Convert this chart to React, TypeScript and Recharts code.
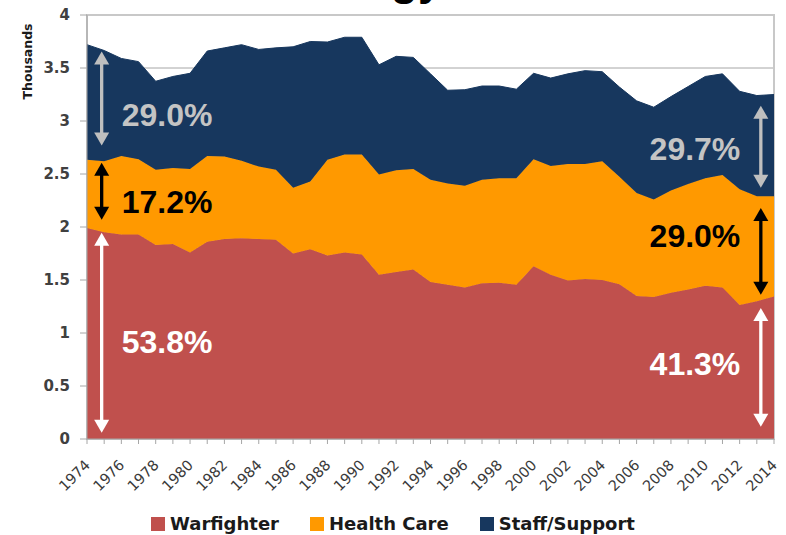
import { AreaChart, Area, XAxis, YAxis, CartesianGrid, Legend, ReferenceLine, ReferenceArea } from 'recharts'

// ── data (thousands) ──────────────────────────────────────────
const YEARS = [
  '1974', '1975', '1976', '1977', '1978', '1979', '1980', '1981', '1982', '1983',
  '1984', '1985', '1986', '1987', '1988', '1989', '1990', '1991', '1992', '1993',
  '1994', '1995', '1996', '1997', '1998', '1999', '2000', '2001', '2002', '2003',
  '2004', '2005', '2006', '2007', '2008', '2009', '2010', '2011', '2012', '2013',
  '2014',
]

const WARFIGHTER = [
  1.99, 1.95, 1.93, 1.93, 1.83, 1.84, 1.76, 1.86, 1.886, 1.895,
  1.886, 1.88, 1.75, 1.79, 1.73, 1.76, 1.74, 1.55, 1.575, 1.6,
  1.48, 1.455, 1.43, 1.47, 1.475, 1.455, 1.63, 1.55, 1.495, 1.51,
  1.5, 1.46, 1.35, 1.34, 1.38, 1.41, 1.445, 1.43, 1.265, 1.3,
  1.345,
]

const HEALTH_CARE = [
  0.645, 0.67, 0.74, 0.71, 0.71, 0.716, 0.787, 0.81, 0.78, 0.73,
  0.684, 0.66, 0.62, 0.64, 0.905, 0.925, 0.945, 0.945, 0.96, 0.947,
  0.965, 0.955, 0.96, 0.975, 0.985, 1.005, 1.01, 1.025, 1.1, 1.085,
  1.12, 1.015, 0.97, 0.92, 0.965, 0.995, 1.015, 1.06, 1.09, 0.99,
  0.945,
]

const STAFF_SUPPORT = [
  1.085, 1.045, 0.92, 0.92, 0.835, 0.864, 0.903, 0.99, 1.024, 1.095,
  1.105, 1.15, 1.33, 1.32, 1.11, 1.105, 1.105, 1.035, 1.075, 1.053,
  1.0, 0.88, 0.905, 0.885, 0.87, 0.84, 0.81, 0.83, 0.85, 0.88,
  0.845, 0.845, 0.87, 0.87, 0.885, 0.92, 0.96, 0.955, 0.925, 0.95,
  0.96,
]

const Y_TICKS = [0, 0.5, 1, 1.5, 2, 2.5, 3, 3.5, 4]
// ──────────────────────────────────────────────────────────────

const SERIES = [
  { key: 'warfighter', name: 'Warfighter', color: '#c0504d' },
  { key: 'health', name: 'Health Care', color: '#ff9900' },
  { key: 'staff', name: 'Staff/Support', color: '#17375e' },
]

const data = YEARS.map((year, i) => ({
  year,
  warfighter: WARFIGHTER[i],
  health: HEALTH_CARE[i],
  staff: STAFF_SUPPORT[i],
}))

// share arrows drawn over the areas (y in thousands, dx in px)
const ARROWS = [
  { year: '1975', top: 3.655, bottom: 2.77, labelAt: 3.06, label: '29.0%', color: '#bfbfbf', side: 'right', dx: -2.5 },
  { year: '1975', top: 2.606, bottom: 2.068, labelAt: 2.243, label: '17.2%', color: '#000000', side: 'right', dx: -2.5 },
  { year: '1975', top: 1.945, bottom: 0.06, labelAt: 0.92, label: '53.8%', color: '#ffffff', side: 'right', dx: -2.5 },
  { year: '2013', top: 3.145, bottom: 2.37, labelAt: 2.743, label: '29.7%', color: '#bfbfbf', side: 'left', dx: 4 },
  { year: '2013', top: 2.18, bottom: 1.36, labelAt: 1.917, label: '29.0%', color: '#000000', side: 'left', dx: 4 },
  { year: '2013', top: 1.237, bottom: 0.116, labelAt: 0.708, label: '41.3%', color: '#ffffff', side: 'left', dx: 4 },
]

type Arrow = (typeof ARROWS)[number]

function arrowShape(a: Arrow) {
  return (props: any) => {
    const { x1, y1, y2 } = props
    const x = x1 + a.dx
    const head = 13
    const half = 7.5
    // y1 belongs to a.top, y2 to a.bottom (linear scale)
    const ly = y1 + ((a.labelAt - a.top) / (a.bottom - a.top)) * (y2 - y1)
    const tx = a.side === 'right' ? x + 20 : x - 20.5
    return (
      <g>
        <line x1={x} x2={x} y1={y1 + head - 1} y2={y2 - head + 1} stroke={a.color} strokeWidth={3.3} />
        <polygon points={`${x},${y1} ${x - half},${y1 + head} ${x + half},${y1 + head}`} fill={a.color} />
        <polygon points={`${x},${y2} ${x - half},${y2 - head} ${x + half},${y2 - head}`} fill={a.color} />
        <text
          x={tx}
          y={ly}
          dy="0.36em"
          textAnchor={a.side === 'right' ? 'start' : 'end'}
          fontFamily="'Liberation Sans', Arial, sans-serif"
          fontWeight="bold"
          fontSize={32}
          fill={a.color === '#bfbfbf' ? '#c4c4c4' : a.color}
        >
          {a.label}
        </text>
      </g>
    )
  }
}

function YearTick(props: any) {
  const { x, y, payload } = props
  if (Number(payload.value) % 2 !== 0) return null
  const ax = x + 4
  const ay = y + 20
  return (
    <text
      x={ax}
      y={ay}
      transform={`rotate(-45, ${ax}, ${ay})`}
      textAnchor="end"
      fontFamily="'DejaVu Sans', sans-serif"
      fontSize={14.5}
      fill="#3a3a3a"
    >
      {payload.value}
    </text>
  )
}

function LegendContent() {
  return (
    <div
      style={{
        display: 'flex',
        justifyContent: 'center',
        alignItems: 'center',
        gap: 31,
        height: 36,
        paddingTop: 13,
        boxSizing: 'border-box',
        fontFamily: "'DejaVu Sans', sans-serif",
        fontWeight: 'bold',
        fontSize: 18,
        color: '#1a1a1a',
      }}
    >
      {SERIES.map((s) => (
        <div key={s.key} style={{ display: 'flex', alignItems: 'center', gap: 5 }}>
          <span style={{ display: 'inline-block', width: 14, height: 14, background: s.color }} />
          <span>{s.name}</span>
        </div>
      ))}
    </div>
  )
}

export default function App() {
  return (
    <div style={{ position: 'fixed', left: 0, top: 0, width: 786, height: 535, background: '#fff' }}>
      <AreaChart width={786} height={535} data={data} margin={{ top: 15, right: 12, bottom: 0, left: 0 }}>
        <CartesianGrid vertical={false} stroke="#a6a6a6" />
        <ReferenceArea x1="1974" x2="2014" y1={0} y2={4} fill="none" stroke="#c8c8c8" strokeWidth={2} />
        <XAxis
          dataKey="year"
          interval={0}
          height={60}
          tick={<YearTick />}
          tickSize={5}
          axisLine={{ stroke: '#a6a6a6' }}
          tickLine={{ stroke: '#a6a6a6' }}
        />
        <YAxis
          width={87}
          domain={[0, 4]}
          ticks={Y_TICKS}
          tickSize={7}
          tickMargin={10}
          axisLine={{ stroke: '#a6a6a6' }}
          tickLine={{ stroke: '#a6a6a6' }}
          tick={{ fontFamily: "'DejaVu Sans', sans-serif", fontSize: 15, fontWeight: 'bold', fill: '#404040' }}
          label={{
            content: (p: any) => {
              const vb = p.viewBox || { x: 0, y: 15 }
              const cx = vb.x + 27
              const cy = vb.y + 46.5
              return (
                <text
                  x={cx}
                  y={cy}
                  transform={`rotate(-90, ${cx}, ${cy})`}
                  textAnchor="middle"
                  dy="0.36em"
                  fontFamily="'DejaVu Sans', sans-serif"
                  fontWeight="bold"
                  fontSize={12.5}
                  fill="#1a1a1a"
                >
                  Thousands
                </text>
              )
            },
          }}
        />
        {SERIES.map((s) => (
          <Area
            key={s.key}
            type="linear"
            dataKey={s.key}
            name={s.name}
            stackId="total"
            fill={s.color}
            fillOpacity={1}
            stroke={s.color}
            strokeWidth={1}
            isAnimationActive={false}
          />
        ))}
        {ARROWS.map((a, i) => (
          <ReferenceLine
            key={i}
            segment={[
              { x: a.year, y: a.top },
              { x: a.year, y: a.bottom },
            ]}
            stroke={a.color}
            shape={arrowShape(a)}
          />
        ))}
        <Legend
          verticalAlign="bottom"
          height={36}
          content={<LegendContent />}
          wrapperStyle={{ left: 0, width: 786, bottom: 0 }}
        />
      </AreaChart>
      {/* bottom of the slide title, cut off by the crop */}
      <svg width={786} height={20} style={{ position: 'absolute', left: 0, top: 0, pointerEvents: 'none' }}>
        <text x={391} y={-5} fontFamily="'Liberation Sans', Arial, sans-serif" fontWeight="bold" fontSize={44} fill="#000">
          gy
        </text>
      </svg>
    </div>
  )
}
